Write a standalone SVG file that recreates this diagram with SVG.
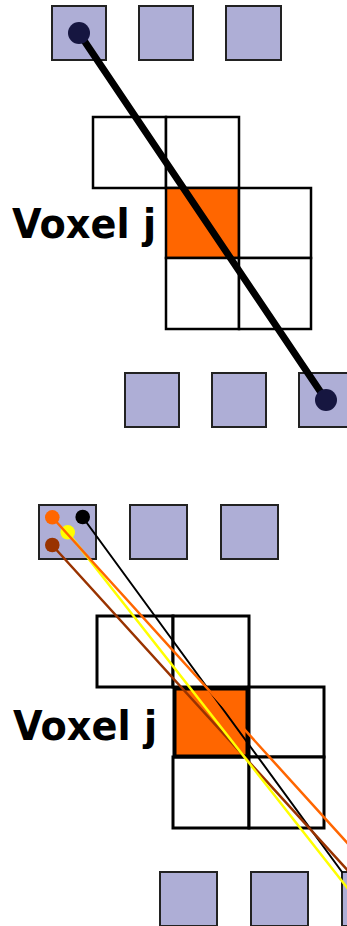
<svg xmlns="http://www.w3.org/2000/svg" width="347" height="926" viewBox="0 0 347 926">
<style>
.det{fill:#AEAED6;stroke:#222;stroke-width:2}
.cell{fill:#fff;stroke:#000;stroke-width:2.5}
.cellb{fill:#fff;stroke:#000;stroke-width:3}
.hot{fill:#FF6600}
.lbl{font-family:"DejaVu Sans","Liberation Sans",sans-serif;font-weight:bold;font-size:40px;fill:#000}
.ray{fill:none;stroke-linecap:round}
</style>
<rect width="347" height="926" fill="#fff"/>
<g id="top-detectors-upper">
<rect class="det" x="52" y="6" width="54" height="54"/>
<rect class="det" x="139" y="6" width="54" height="54"/>
<rect class="det" x="226" y="6" width="55" height="54"/>
</g>
<g id="top-grid">
<rect class="cell" x="93" y="117" width="73" height="71"/>
<rect class="cell" x="166" y="117" width="73" height="71"/>
<rect class="cell hot" x="166" y="188" width="73" height="70"/>
<rect class="cell" x="239" y="188" width="72" height="70"/>
<rect class="cell" x="166" y="258" width="73" height="71"/>
<rect class="cell" x="239" y="258" width="72" height="71"/>
</g>
<g id="top-label"><text class="lbl" x="12" y="238" textLength="144" lengthAdjust="spacingAndGlyphs">Voxel j</text></g>
<g id="top-detectors-lower">
<rect class="det" x="125" y="373" width="54" height="54"/>
<rect class="det" x="212" y="373" width="54" height="54"/>
<rect class="det" x="299" y="373" width="54" height="54"/>
</g>
<g id="top-connectors">
<line class="ray" x1="79" y1="33" x2="326" y2="400" stroke="#000" stroke-width="7"/>
<circle cx="79" cy="33" r="11" fill="#161640"/>
<circle cx="326" cy="400" r="11" fill="#161640"/>
</g>
<g id="bottom-detectors-upper">
<rect class="det" x="39" y="505" width="57" height="54"/>
<rect class="det" x="130" y="505" width="57" height="54"/>
<rect class="det" x="221" y="505" width="57" height="54"/>
</g>
<g id="bottom-grid">
<rect class="cellb" x="97" y="616" width="76" height="71"/>
<rect class="cellb" x="173" y="616" width="76" height="71"/>
<rect class="cellb" x="249" y="687" width="75" height="70"/>
<rect class="cellb" x="173" y="757" width="76" height="71"/>
<rect class="cellb" x="249" y="757" width="75" height="71"/>
<rect x="174.5" y="688.5" width="73" height="68" fill="#FF6600" stroke="#000" stroke-width="4"/>
</g>
<g id="bottom-label"><text class="lbl" x="13" y="740" textLength="144" lengthAdjust="spacingAndGlyphs">Voxel j</text></g>
<g id="bottom-detectors-lower">
<rect class="det" x="160" y="872" width="57" height="54"/>
<rect class="det" x="251" y="872" width="57" height="54"/>
<rect class="det" x="342" y="872" width="57" height="54"/>
</g>
<g id="bottom-connectors">
<circle cx="67.7" cy="532.3" r="7.3" fill="#FFFF00"/>
<line class="ray" x1="82.5" y1="517" x2="342" y2="872" stroke="#000" stroke-width="2"/>
<line class="ray" x1="52" y1="545" x2="360" y2="884" stroke="#993300" stroke-width="2.5"/>
<line class="ray" x1="67.5" y1="532" x2="360" y2="904" stroke="#FFFF00" stroke-width="2.5"/>
<line class="ray" x1="52" y1="517" x2="360" y2="857" stroke="#FF6600" stroke-width="2.5"/>
<circle cx="52.3" cy="517.3" r="7.3" fill="#FF6600"/>
<circle cx="82.7" cy="517" r="7.3" fill="#000"/>
<circle cx="52.3" cy="545" r="7.3" fill="#993300"/>
</g>
</svg>
